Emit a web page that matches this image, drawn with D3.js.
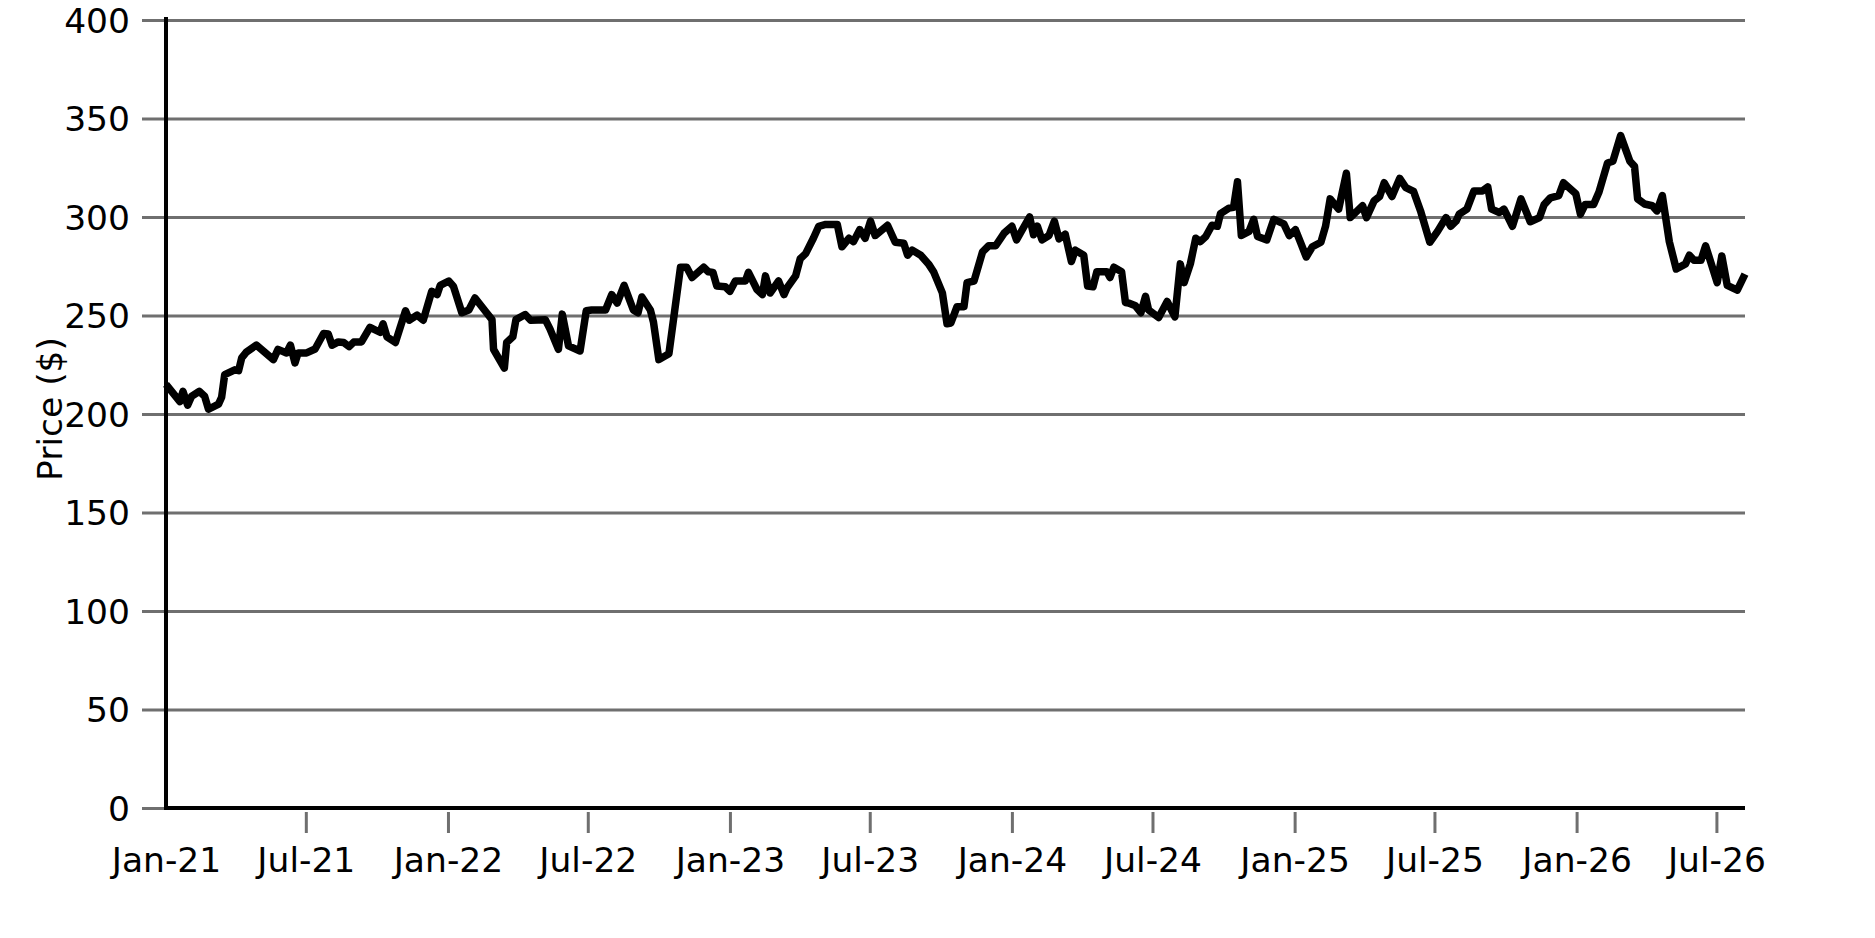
<!DOCTYPE html>
<html>
<head>
<meta charset="utf-8">
<script src="https://cdn.jsdelivr.net/npm/d3@7"></script>
<style>
  body { margin: 0; background: #fff; }
  svg { display: block; }
  text { font-family: "DejaVu Sans", sans-serif; fill: #000; }
</style>
</head>
<body>
<svg id="chart" width="1875" height="938"></svg>
<script>
// ---------------- data ----------------
const dates = [
"2021-01-01","2021-01-19","2021-01-23","2021-01-29","2021-02-03","2021-02-13","2021-02-20","2021-02-25",
"2021-03-10","2021-03-14","2021-03-18","2021-03-31","2021-04-05","2021-04-09","2021-04-15","2021-04-28",
"2021-05-20","2021-05-26","2021-06-06","2021-06-11","2021-06-17","2021-06-21","2021-07-02","2021-07-13",
"2021-07-24","2021-07-30","2021-08-04","2021-08-12","2021-08-19","2021-08-26","2021-09-01","2021-09-11",
"2021-09-22","2021-10-05","2021-10-09","2021-10-14","2021-10-25","2021-11-07","2021-11-12","2021-11-22",
"2021-11-30","2021-12-11","2021-12-18","2021-12-22","2022-01-02","2022-01-08","2022-01-19","2022-01-28",
"2022-02-05","2022-02-20","2022-02-27","2022-03-01","2022-03-15","2022-03-18","2022-03-26","2022-03-30",
"2022-04-11","2022-04-18","2022-05-07","2022-05-13","2022-05-24","2022-05-29","2022-06-06","2022-06-21",
"2022-06-29","2022-07-06","2022-07-24","2022-08-01","2022-08-08","2022-08-17","2022-08-29","2022-09-04",
"2022-09-09","2022-09-20","2022-09-24","2022-10-01","2022-10-14","2022-10-21","2022-10-29","2022-11-06",
"2022-11-13","2022-11-28","2022-12-04","2022-12-10","2022-12-15","2022-12-26","2023-01-01","2023-01-08",
"2023-01-21","2023-01-25","2023-02-05","2023-02-12","2023-02-16","2023-02-22","2023-03-05","2023-03-12",
"2023-03-16","2023-03-27","2023-04-02","2023-04-09","2023-04-19","2023-04-26","2023-05-05","2023-05-20",
"2023-05-26","2023-06-04","2023-06-10","2023-06-18","2023-06-25","2023-07-02","2023-07-08","2023-07-24",
"2023-08-03","2023-08-14","2023-08-19","2023-08-25","2023-09-05","2023-09-15","2023-09-22","2023-10-03",
"2023-10-09","2023-10-14","2023-10-22","2023-10-31","2023-11-04","2023-11-13","2023-11-24","2023-12-02",
"2023-12-11","2023-12-22","2024-01-01","2024-01-07","2024-01-17","2024-01-24","2024-01-29","2024-02-03",
"2024-02-09","2024-02-18","2024-02-25","2024-03-02","2024-03-10","2024-03-18","2024-03-23","2024-04-03",
"2024-04-08","2024-04-15","2024-04-20","2024-05-03","2024-05-07","2024-05-12","2024-05-22","2024-05-27",
"2024-05-31","2024-06-09","2024-06-16","2024-06-22","2024-06-26","2024-07-09","2024-07-20","2024-07-30",
"2024-08-06","2024-08-11","2024-08-19","2024-08-26","2024-09-01","2024-09-08","2024-09-16","2024-09-23",
"2024-09-27","2024-10-08","2024-10-14","2024-10-19","2024-10-24","2024-11-03","2024-11-09","2024-11-14",
"2024-11-26","2024-12-05","2024-12-18","2024-12-25","2025-01-02","2025-01-09","2025-01-16","2025-01-24",
"2025-02-04","2025-02-10","2025-02-16","2025-02-27","2025-03-09","2025-03-14","2025-03-23","2025-03-30",
"2025-04-04","2025-04-14","2025-04-21","2025-04-27","2025-05-07","2025-05-17","2025-05-25","2025-06-04",
"2025-06-13","2025-06-25","2025-07-05","2025-07-16","2025-07-22","2025-07-29","2025-08-02","2025-08-12",
"2025-08-21","2025-09-01","2025-09-08","2025-09-13","2025-09-23","2025-09-29","2025-10-10","2025-10-21",
"2025-11-02","2025-11-14","2025-11-20","2025-11-28","2025-12-09","2025-12-15","2025-12-31","2026-01-06",
"2026-01-12","2026-01-23","2026-01-30","2026-02-10","2026-02-17","2026-02-27","2026-03-11","2026-03-17",
"2026-03-21","2026-03-30","2026-04-09","2026-04-15","2026-04-22","2026-05-01","2026-05-10","2026-05-22",
"2026-05-27","2026-06-02","2026-06-11","2026-06-17","2026-07-02","2026-07-08","2026-07-15","2026-07-28",
"2026-08-07"
];

const prices = [
215,206.3,211.5,204.5,208.9,211.5,209,202.4,
205,208.5,220,222.4,222,228.5,231.4,235,
227.6,232.8,231,235,225.9,231,231,233,
240.9,240.6,234.9,236.6,236.3,234.2,236.5,236.6,
244,241.5,245.8,239.2,236.3,252.4,247.6,250.2,
247.6,262.3,260.6,265.3,267.5,264.9,251.4,252.8,
258.9,251.4,247.9,232.8,223.3,236.3,239.2,247.9,
250.5,247.6,247.9,243.2,232.8,250.7,234.6,232,
252.4,252.8,252.8,260.6,256.3,265.3,252.8,251.4,
259.4,252.8,246.7,227.6,230.6,251,274.5,274.5,
269.3,274.5,272.2,271.9,265,264.6,262.3,267.5,
267.5,271.9,263.2,260.6,270.1,261.4,267.5,260.6,
264.1,270.1,278.8,281.4,289.2,295.3,296.2,296.2,
284.9,289.2,287.5,293.6,289.2,297.9,290.6,295.8,
287.2,286.7,280.6,283.2,280.6,276.2,271.9,261.5,
245.8,246.2,254.5,254.5,266.7,267.5,282.3,285.4,
285.4,291.8,295.3,288.4,295.3,300,291,295.3,
288.4,290.6,297.9,288.9,291.3,277.4,283.2,280.6,
264.9,264.6,272.2,272.2,269.3,274.5,272.2,256.6,
256.3,254.9,251.4,259.7,252.8,249,257.1,249.3,
276.2,266.7,276.2,289.2,287.5,290.1,295.8,295.3,
301.7,304.5,304.9,317.9,290.6,292.7,298.8,290.1,
288.4,298.8,296.5,290.6,293.6,286.7,279.7,284.9,
287.2,295.3,309.2,304,322.2,299.7,303.1,305.7,
299.7,308.3,310.4,317.4,310.4,319.6,314.9,313,
303.1,287.2,292.7,299.7,295.3,297.9,301.4,304,
313.2,313.2,315.3,304,302.3,304,295.3,309.2,
297.6,299.7,306.3,309.7,310.9,317.4,311.8,301.4,
306.3,306.3,312.7,327.4,328.3,341.3,328.3,325.7,
309.2,306.6,305.7,303.1,310.9,287.5,273.6,276.2,
280.6,278,278,285.4,266.7,280.2,265.3,262.9,
271
];

const yTickValues = [0, 50, 100, 150, 200, 250, 300, 350, 400];
const xTickDates = ["2021-01-01","2021-07-01","2022-01-01","2022-07-01","2023-01-01","2023-07-01",
                    "2024-01-01","2024-07-01","2025-01-01","2025-07-01","2026-01-01","2026-07-01"];
const xTickLabels = ["Jan-21","Jul-21","Jan-22","Jul-22","Jan-23","Jul-23",
                     "Jan-24","Jul-24","Jan-25","Jul-25","Jan-26","Jul-26"];
const yAxisTitle = "Price ($)";

// ---------------- drawing ----------------
const svg = d3.select("#chart");
svg.append("rect").attr("width", 1875).attr("height", 938).attr("fill", "#fff");

const parse = d3.timeParse("%Y-%m-%d");
const series = dates.map((d, i) => ({ date: parse(d), value: prices[i] }));

const plotLeft = 166, plotRight = 1745, plotTop = 20, plotBottom = 808;
const gridLeft = 142;
const fontSize = 34.5;
const gridColor = "#6f6f6f";

const x = d3.scaleTime()
  .domain([series[0].date, series[series.length - 1].date])
  .range([plotLeft, plotRight]);
const y = d3.scaleLinear().domain([0, 400]).range([plotBottom, plotTop]);

// horizontal gridlines + y tick labels
const yAxis = d3.axisLeft(y)
  .tickValues(yTickValues)
  .tickFormat(d3.format("d"))
  .tickSize(-(plotRight - gridLeft))
  .tickPadding(12);
const gy = svg.append("g")
  .attr("transform", `translate(${gridLeft},0)`)
  .call(yAxis);
gy.select(".domain").remove();
gy.selectAll(".tick line").attr("stroke", gridColor).attr("stroke-width", 3);
gy.selectAll(".tick text")
  .attr("font-size", fontSize)
  .attr("font-family", "DejaVu Sans, sans-serif")
  .attr("fill", "#000")
  .attr("dy", "0.36em");

// x ticks + labels
const xAxis = d3.axisBottom(x)
  .tickValues(xTickDates.map(parse))
  .tickFormat((d, i) => xTickLabels[i])
  .tickSize(25)
  .tickPadding(15);
const gx = svg.append("g")
  .attr("transform", `translate(0,${plotBottom})`)
  .call(xAxis);
gx.select(".domain").remove();
gx.selectAll(".tick line")
  .attr("y1", 4)
  .attr("stroke", gridColor)
  .attr("stroke-width", 3)
  .attr("opacity", (d, i) => i === 0 ? 0 : 1);
gx.selectAll(".tick text")
  .attr("font-size", fontSize)
  .attr("font-family", "DejaVu Sans, sans-serif")
  .attr("fill", "#000");

// price line
const line = d3.line()
  .x(d => x(d.date))
  .y(d => y(d.value));
svg.append("path")
  .datum(series)
  .attr("d", line)
  .attr("fill", "none")
  .attr("stroke", "#000")
  .attr("stroke-width", 7.5)
  .attr("stroke-linejoin", "round")
  .attr("stroke-linecap", "butt");

// axis lines (left and bottom spines)
svg.append("line")
  .attr("x1", x.range()[0]).attr("x2", x.range()[0])
  .attr("y1", y(400) - 3).attr("y2", y(0) + 2)
  .attr("stroke", "#000").attr("stroke-width", 4);
svg.append("line")
  .attr("x1", x.range()[0] - 2).attr("x2", x.range()[1])
  .attr("y1", y(0)).attr("y2", y(0))
  .attr("stroke", "#000").attr("stroke-width", 4);

// y axis title
svg.append("text")
  .attr("transform", `translate(62,409) rotate(-90)`)
  .attr("text-anchor", "middle")
  .attr("font-size", 34.5)
  .text(yAxisTitle);
</script>
</body>
</html>
